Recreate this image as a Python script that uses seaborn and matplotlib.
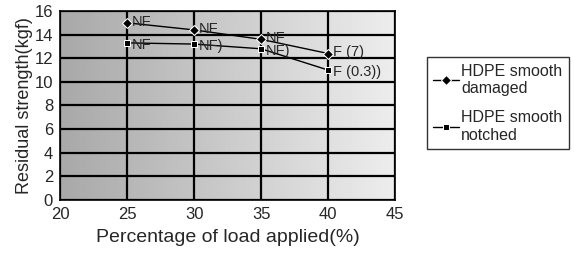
import numpy as np
import pandas as pd
import matplotlib
matplotlib.use("Agg")
import matplotlib.pyplot as plt
import seaborn as sns

load_pct = [25, 30, 35, 40]
damaged = [15.0, 14.4, 13.6, 12.4]
notched = [13.3, 13.2, 12.8, 11.0]
damaged_labels = ["NF", "NF", "NF", "F (7)"]
notched_labels = ["NF", "NF)", "NF)", "F (0.3))"]
series_names = ["HDPE smooth\ndamaged", "HDPE smooth\nnotched"]
x_ticks = [20, 25, 30, 35, 40, 45]
y_ticks = [0, 2, 4, 6, 8, 10, 12, 14, 16]

df = pd.DataFrame({
    "load": load_pct * 2,
    "strength": damaged + notched,
    "series": [series_names[0]] * 4 + [series_names[1]] * 4,
})

sns.set_style("white")
plt.rcParams["font.family"] = ["Liberation Sans", "DejaVu Sans"]

fig = plt.figure(figsize=(5.74, 2.56), dpi=100)
ax = fig.add_axes([0.1045, 0.219, 0.584, 0.738])

grad = np.linspace(0.66, 0.93, 256).reshape(1, -1)
ax.imshow(grad, extent=[0, 1, 0, 1], transform=ax.transAxes, aspect="auto",
          cmap="gray", vmin=0, vmax=1, zorder=0, interpolation="bilinear")

sns.lineplot(data=df, x="load", y="strength", hue="series", style="series",
             markers={series_names[0]: "D", series_names[1]: "s"}, dashes=False,
             palette={series_names[0]: "black", series_names[1]: "black"},
             markersize=5, linewidth=1.0, ax=ax, zorder=3)

for x, y, t in zip(load_pct, damaged, damaged_labels):
    ax.text(x + 0.35, y + 0.1, t, fontsize=10.5, va="center", ha="left", zorder=4)
for x, y, t in zip(load_pct, notched, notched_labels):
    ax.text(x + 0.35, y - 0.2, t, fontsize=10.5, va="center", ha="left", zorder=4)

ax.set_xlim(20, 45)
ax.set_ylim(0, 16)
ax.set_xticks(x_ticks)
ax.set_yticks(y_ticks)
ax.grid(True, color="black", linewidth=1.6, zorder=1)
ax.set_axisbelow(False)
for s in ax.spines.values():
    s.set_color("black")
    s.set_linewidth(1.2)
ax.tick_params(axis="both", labelsize=12, length=4, width=1, direction="out",
               color="black", pad=1)
ax.set_xlabel("Percentage of load applied(%)", fontsize=14, labelpad=5)
ax.set_ylabel("Residual strength(kgf)", fontsize=13, labelpad=1)

leg = ax.legend(loc="upper left", bbox_to_anchor=(1.095, 0.755), frameon=True,
                fontsize=11.5, handlelength=1.6, handletextpad=0.15,
                borderpad=0.4, borderaxespad=0, labelspacing=0.9,
                fancybox=False, edgecolor="black")
leg.get_frame().set_linewidth(1.0)

fig.savefig("out.png", dpi=100)
